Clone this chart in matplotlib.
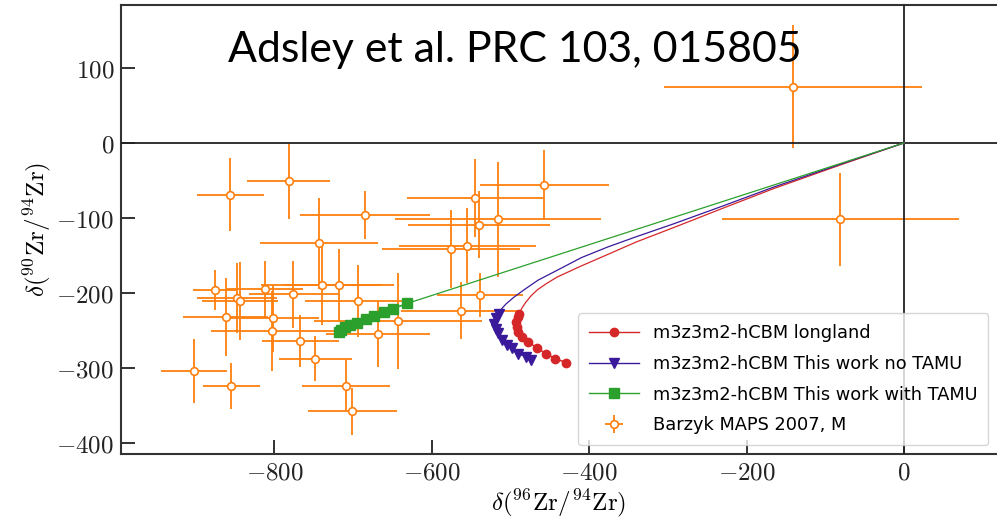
import matplotlib
matplotlib.use("Agg")
import matplotlib.pyplot as plt
import numpy as np

plt.rcParams['mathtext.fontset'] = 'cm'
plt.rcParams['font.family'] = ['DejaVu Sans']

# --- Barzyk MAPS 2007, M (grains) ---
bx = [-856, -782, -685, -744, -740, -718, -876, -812, -776, -848, -844, -694,
      -862, -802, -803, -643, -669, -767, -748, -902, -855, -709, -701,
      -457, -545, -516, -540, -576, -555, -539, -563, -81, -141]
by = [-69, -51, -96, -134, -190, -190, -196, -195, -202, -207, -211, -211,
      -232, -234, -251, -237, -255, -264, -288, -304, -324, -324, -358,
      -56, -74, -102, -109, -142, -137, -203, -224, -102, 75]
bxerr = [43, 53, 83, 75, 77, 70, 27, 48, 57, 51, 48, 67,
         54, 59, 78, 107, 66, 49, 46, 42, 36, 56, 57,
         82, 86, 131, 90, 88, 87, 55, 76, 151, 164]
byerr = [49, 50, 32, 61, 53, 49, 27, 38, 45, 47, 52, 48,
         52, 45, 53, 64, 44, 35, 30, 43, 31, 34, 31,
         47, 52, 77, 45, 52, 50, 29, 38, 62, 82]

# --- m3z3m2-hCBM longland (line then marked points) ---
red_line_x = [0, -80, -166, -230, -293, -340, -377, -410, -441, -455, -466, -474, -481, -486]
red_line_y = [0, -29, -61, -87, -113, -132, -149, -164, -179, -188, -196, -204, -213, -221]
red_mark_x = [-489, -491, -493, -492, -490, -486, -478, -466, -455, -443, -429]
red_mark_y = [-228, -232, -239, -245, -252, -259, -265, -274, -281, -288, -293]

# --- m3z3m2-hCBM This work no TAMU ---
pur_line_x = [0, -80, -166, -230, -293, -340, -377, -410, -441, -465, -483, -496, -506, -512]
pur_line_y = [0, -28, -59, -84, -108, -125, -139, -153, -170, -183, -196, -206, -215, -222]
pur_mark_x = [-515, -518, -521, -519, -516, -511, -505, -498, -490, -481, -474]
pur_mark_y = [-228, -234, -241, -248, -254, -263, -270, -274, -281, -285, -290]

# --- m3z3m2-hCBM This work with TAMU ---
grn_line_x = [0]
grn_line_y = [0]
grn_mark_x = [-631, -649, -661, -674, -684, -695, -704, -710, -715, -718]
grn_mark_y = [-214, -221, -225, -231, -235, -240, -243, -246, -249, -252]

xticks = [-800, -600, -400, -200, 0]
yticks = [100, 0, -100, -200, -300, -400]

labels = ['m3z3m2-hCBM longland', 'm3z3m2-hCBM This work no TAMU',
          'm3z3m2-hCBM This work with TAMU', 'Barzyk MAPS 2007, M']
title_text = 'Adsley et al. PRC 103, 015805'

c_red = '#d62728'
c_pur = '#3a1a9a'
c_grn = '#2ca02c'
c_org = '#ff7f0e'

fig = plt.figure(figsize=(9.97, 5.2), dpi=100)
ax = fig.add_axes([121/997, 1-454/520, 1-121/997, (454-5)/520])

eb = ax.errorbar(bx, by, xerr=bxerr, yerr=byerr, fmt='o', color=c_org,
                 mfc='white', mec=c_org, ms=5.5, mew=1.2, elinewidth=1.3,
                 capsize=0, zorder=2, label=labels[3])

ax.axhline(0, color='#222222', lw=1.3, zorder=3)
ax.axvline(0, color='#222222', lw=1.3, zorder=3)

def curve(lx, ly, mx, my, color, marker, ms, label):
    ax.plot(list(lx) + list(mx), list(ly) + list(my), color=color, lw=0.9, zorder=4)
    ax.plot(mx, my, color=color, lw=0.9, marker=marker, ms=ms, mec=color, zorder=5)
    h, = ax.plot([], [], color=color, lw=1.0, marker=marker, ms=ms, label=label)
    return h

h1 = curve(red_line_x, red_line_y, red_mark_x, red_mark_y, c_red, 'o', 6, labels[0])
h2 = curve(pur_line_x, pur_line_y, pur_mark_x, pur_mark_y, c_pur, 'v', 6.5, labels[1])
h3 = curve(grn_line_x, grn_line_y, grn_mark_x, grn_mark_y, c_grn, 's', 7, labels[2])

ax.set_xlim(-995, 118)
ax.set_ylim(-415, 184)
ax.set_xticks(xticks)
ax.set_xticklabels([r'$%d$' % v for v in xticks])
ax.set_yticks(yticks)
ax.set_yticklabels([r'$%d$' % v for v in yticks])
ax.tick_params(direction='in', length=10, width=1.3, labelsize=18,
               colors='#222222', pad=5)
for s in ['left', 'bottom', 'top']:
    ax.spines[s].set_color('#333333')
    ax.spines[s].set_linewidth(1.5)
ax.spines['right'].set_visible(False)

ax.set_xlabel(r'$\delta(^{96}\mathrm{Zr}/^{94}\mathrm{Zr})$', fontsize=18, labelpad=2)
ax.set_ylabel(r'$\delta(^{90}\mathrm{Zr}/^{94}\mathrm{Zr})$', fontsize=18, labelpad=2)

leg = ax.legend(handles=[h1, h2, h3, eb], labels=labels, loc='lower right',
                fontsize=12.8, framealpha=0.8, borderaxespad=0.5,
                handlelength=2.8, labelspacing=0.72, borderpad=0.6)
leg.set_zorder(10)

fig.text(228/997, 1-62/520, title_text, fontsize=30.8, family='Lato',
         ha='left', va='baseline', color='black')

fig.savefig('out.png', dpi=100)
